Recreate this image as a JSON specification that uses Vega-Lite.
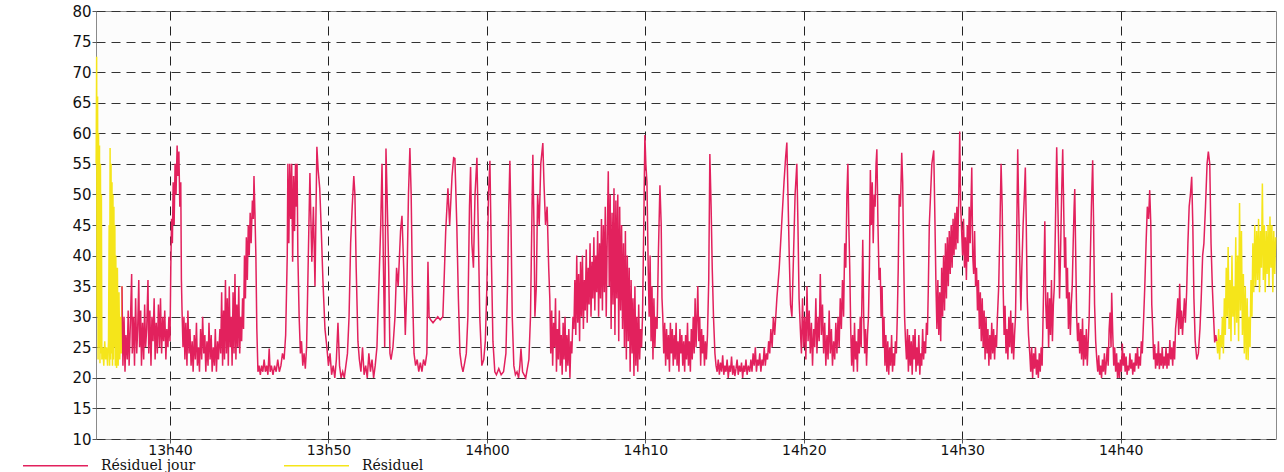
{
"$schema":"https://vega.github.io/schema/vega-lite/v6.json",
"width":1180,"height":428,
"autosize":{"type":"none"},
"padding":{"left":96,"top":11,"right":8,"bottom":33},
"background":"white",
"config":{"view":{"stroke":"#8a8a8a","fill":"#fcfcfc"}},
"datasets":{
"res1":[
{"t":815.34,"v":55},{"t":815.37,"v":72.5},{"t":815.4,"v":30},{"t":815.43,"v":66},{"t":815.46,"v":23},{"t":815.49,"v":60},{"t":815.52,"v":25},{"t":815.55,"v":58},{"t":815.58,"v":22.4},{"t":815.61,"v":55},{"t":815.64,"v":24},{"t":815.67,"v":50},{"t":815.7,"v":23},{"t":815.76,"v":25},{"t":815.82,"v":22},{"t":815.88,"v":26},{"t":815.94,"v":23},{"t":816.0,"v":25},{"t":816.06,"v":22},{"t":816.12,"v":26},{"t":816.16,"v":45},{"t":816.19,"v":22},{"t":816.22,"v":57.6},{"t":816.25,"v":23},{"t":816.28,"v":55},{"t":816.31,"v":24},{"t":816.34,"v":52},{"t":816.37,"v":22},{"t":816.4,"v":50},{"t":816.43,"v":23},{"t":816.46,"v":48},{"t":816.49,"v":25},{"t":816.52,"v":45},{"t":816.55,"v":22},{"t":816.58,"v":40},{"t":816.63,"v":21.6},{"t":816.68,"v":38},{"t":816.73,"v":22},{"t":816.78,"v":34},{"t":816.83,"v":23},{"t":816.88,"v":30},{"t":816.93,"v":24},{"t":816.97,"v":35}
],
"res2":[
{"t":886.06,"v":26},{"t":886.12,"v":24},{"t":886.18,"v":28},{"t":886.24,"v":23},{"t":886.3,"v":27},{"t":886.36,"v":25},{"t":886.42,"v":30},{"t":886.48,"v":24},{"t":886.54,"v":33},{"t":886.6,"v":27},{"t":886.66,"v":38},{"t":886.72,"v":30},{"t":886.78,"v":41.4},{"t":886.84,"v":28},{"t":886.9,"v":36},{"t":886.96,"v":26},{"t":887.02,"v":40},{"t":887.08,"v":30},{"t":887.14,"v":35},{"t":887.2,"v":27},{"t":887.26,"v":43},{"t":887.32,"v":29},{"t":887.38,"v":40},{"t":887.44,"v":26},{"t":887.5,"v":48.6},{"t":887.56,"v":31},{"t":887.62,"v":44},{"t":887.68,"v":27},{"t":887.74,"v":37},{"t":887.8,"v":24},{"t":887.86,"v":35},{"t":887.92,"v":23},{"t":887.98,"v":33},{"t":888.04,"v":22.9},{"t":888.1,"v":30},{"t":888.16,"v":25},{"t":888.22,"v":36},{"t":888.28,"v":30},{"t":888.34,"v":42},{"t":888.4,"v":34},{"t":888.46,"v":45},{"t":888.52,"v":35},{"t":888.58,"v":44},{"t":888.64,"v":36},{"t":888.7,"v":46},{"t":888.76,"v":34},{"t":888.82,"v":44},{"t":888.88,"v":38},{"t":888.94,"v":51.8},{"t":889.0,"v":36},{"t":889.06,"v":45},{"t":889.12,"v":34},{"t":889.18,"v":44},{"t":889.24,"v":37},{"t":889.3,"v":45},{"t":889.36,"v":35},{"t":889.42,"v":46.4},{"t":889.48,"v":38},{"t":889.54,"v":45},{"t":889.6,"v":34},{"t":889.66,"v":44},{"t":889.72,"v":37},{"t":889.78,"v":43}
],
"jour":[
{"t":816.97,"v":35},{"t":817.03,"v":22},{"t":817.1,"v":30},{"t":817.16,"v":21},{"t":817.22,"v":27},{"t":817.3,"v":23},{"t":817.36,"v":31},{"t":817.42,"v":22},{"t":817.5,"v":29},{"t":817.58,"v":37},{"t":817.62,"v":24},{"t":817.7,"v":30},{"t":817.76,"v":22},{"t":817.83,"v":33},{"t":817.9,"v":24},{"t":817.96,"v":28},{"t":818.03,"v":36},{"t":818.08,"v":25},{"t":818.15,"v":31},{"t":818.2,"v":22},{"t":818.27,"v":29},{"t":818.34,"v":23},{"t":818.4,"v":32},{"t":818.46,"v":25},{"t":818.53,"v":28},{"t":818.61,"v":36},{"t":818.66,"v":24},{"t":818.73,"v":31},{"t":818.8,"v":22},{"t":818.86,"v":30},{"t":818.93,"v":26},{"t":819.0,"v":33},{"t":819.06,"v":23},{"t":819.13,"v":29},{"t":819.2,"v":24},{"t":819.27,"v":32},{"t":819.34,"v":25},{"t":819.4,"v":33},{"t":819.47,"v":24},{"t":819.54,"v":30},{"t":819.6,"v":26},{"t":819.67,"v":31},{"t":819.74,"v":23},{"t":819.8,"v":28},{"t":819.87,"v":25},{"t":819.93,"v":30},{"t":820.0,"v":26},
{"t":820.05,"v":38},{"t":820.1,"v":46},{"t":820.15,"v":42},{"t":820.2,"v":52},{"t":820.26,"v":45},{"t":820.32,"v":55},{"t":820.38,"v":50},{"t":820.45,"v":58},{"t":820.5,"v":53},{"t":820.56,"v":57},{"t":820.62,"v":48},{"t":820.68,"v":52},{"t":820.72,"v":36},{"t":820.76,"v":31},
{"t":820.82,"v":25},{"t":820.88,"v":30},{"t":820.94,"v":23},{"t":821.0,"v":29},{"t":821.07,"v":22},{"t":821.13,"v":31},{"t":821.2,"v":24},{"t":821.26,"v":28},{"t":821.33,"v":22},{"t":821.4,"v":26},{"t":821.46,"v":21},{"t":821.53,"v":27},{"t":821.6,"v":23},{"t":821.67,"v":29},{"t":821.73,"v":22},{"t":821.8,"v":25},{"t":821.86,"v":21},{"t":821.93,"v":28},{"t":822.0,"v":23},{"t":822.06,"v":30},{"t":822.13,"v":24},{"t":822.2,"v":27},{"t":822.26,"v":21},{"t":822.33,"v":26},{"t":822.4,"v":22},{"t":822.46,"v":29},{"t":822.53,"v":23},{"t":822.6,"v":27},{"t":822.66,"v":21},{"t":822.73,"v":25},{"t":822.8,"v":22},{"t":822.86,"v":28},{"t":822.93,"v":21},{"t":823.0,"v":26},{"t":823.06,"v":23},{"t":823.15,"v":28},
{"t":823.2,"v":24},{"t":823.26,"v":34},{"t":823.32,"v":22},{"t":823.38,"v":31},{"t":823.44,"v":23},{"t":823.5,"v":36},{"t":823.56,"v":24},{"t":823.62,"v":33},{"t":823.68,"v":22},{"t":823.74,"v":35},{"t":823.8,"v":25},{"t":823.86,"v":30},{"t":823.92,"v":22},{"t":823.98,"v":34},{"t":824.04,"v":24},{"t":824.1,"v":37},{"t":824.16,"v":23},{"t":824.22,"v":32},{"t":824.28,"v":25},{"t":824.34,"v":35},{"t":824.4,"v":24},{"t":824.46,"v":30},{"t":824.52,"v":26},{"t":824.58,"v":33},
{"t":824.64,"v":28},{"t":824.7,"v":40},{"t":824.76,"v":33},{"t":824.82,"v":43},{"t":824.88,"v":36},{"t":824.94,"v":45},{"t":825.0,"v":40},{"t":825.06,"v":47},{"t":825.12,"v":42},{"t":825.2,"v":49},{"t":825.26,"v":46},{"t":825.3,"v":53},{"t":825.36,"v":47},{"t":825.42,"v":40},{"t":825.48,"v":28},{"t":825.55,"v":21},
{"t":825.62,"v":22},{"t":825.7,"v":20.5},{"t":825.78,"v":22},{"t":825.86,"v":21},{"t":825.94,"v":23},{"t":826.02,"v":21},{"t":826.1,"v":22},{"t":826.18,"v":20.5},{"t":826.26,"v":24.8},{"t":826.32,"v":21},{"t":826.4,"v":22},{"t":826.5,"v":20.5},{"t":826.6,"v":22},{"t":826.7,"v":21},{"t":826.8,"v":23},{"t":826.9,"v":21},{"t":827.0,"v":22},{"t":827.1,"v":24},{"t":827.2,"v":23},{"t":827.3,"v":27},
{"t":827.4,"v":40},{"t":827.44,"v":55},{"t":827.5,"v":42},{"t":827.56,"v":55},{"t":827.62,"v":46},{"t":827.68,"v":55},{"t":827.74,"v":39},{"t":827.8,"v":53},{"t":827.86,"v":44},{"t":827.92,"v":55},{"t":827.97,"v":48},{"t":828.02,"v":55},{"t":828.07,"v":40},
{"t":828.15,"v":30},{"t":828.23,"v":24},{"t":828.3,"v":26},{"t":828.38,"v":22},{"t":828.46,"v":24},{"t":828.54,"v":21.5},{"t":828.62,"v":25},
{"t":828.83,"v":53.5},{"t":828.95,"v":39},{"t":829.05,"v":48},{"t":829.15,"v":35},{"t":829.27,"v":57.8},{"t":829.35,"v":54},{"t":829.45,"v":51},{"t":829.55,"v":44},{"t":829.65,"v":36},{"t":829.78,"v":28},{"t":829.9,"v":25},{"t":830.0,"v":22},{"t":830.1,"v":24},{"t":830.2,"v":20.5},{"t":830.3,"v":22},{"t":830.4,"v":20},{"t":830.5,"v":23},{"t":830.6,"v":29},{"t":830.7,"v":22},{"t":830.8,"v":20},{"t":830.9,"v":21},{"t":831.0,"v":20},{"t":831.1,"v":22},{"t":831.2,"v":24},{"t":831.3,"v":30},{"t":831.4,"v":42},{"t":831.5,"v":48},{"t":831.6,"v":53},{"t":831.67,"v":50},{"t":831.75,"v":38},{"t":831.86,"v":26},{"t":831.95,"v":23},{"t":832.05,"v":21},{"t":832.15,"v":25},{"t":832.25,"v":20.5},{"t":832.35,"v":22},{"t":832.45,"v":20},{"t":832.55,"v":24},{"t":832.65,"v":21},{"t":832.75,"v":23},{"t":832.85,"v":20},{"t":832.95,"v":22},{"t":833.06,"v":25},
{"t":833.3,"v":45},{"t":833.38,"v":55},{"t":833.46,"v":40},{"t":833.55,"v":25},{"t":833.63,"v":57.5},{"t":833.7,"v":50},{"t":833.8,"v":38},{"t":833.88,"v":24},{"t":833.95,"v":23},{"t":834.07,"v":25},{"t":834.2,"v":30},{"t":834.3,"v":38},{"t":834.4,"v":35},{"t":834.55,"v":44},{"t":834.64,"v":46.5},{"t":834.75,"v":38},{"t":834.85,"v":27},{"t":834.95,"v":35},{"t":835.05,"v":50},{"t":835.14,"v":57.6},{"t":835.22,"v":50},{"t":835.3,"v":35},{"t":835.4,"v":24},{"t":835.5,"v":22},{"t":835.6,"v":23},{"t":835.7,"v":21},{"t":835.8,"v":22.5},{"t":835.9,"v":21},{"t":836.0,"v":23},{"t":836.1,"v":22},{"t":836.21,"v":24},{"t":836.28,"v":39},{"t":836.35,"v":30},{"t":836.45,"v":29.5},{"t":836.6,"v":29},{"t":836.75,"v":29.5},{"t":836.9,"v":30},{"t":837.05,"v":29.5},{"t":837.22,"v":30},
{"t":837.3,"v":36},{"t":837.4,"v":44},{"t":837.54,"v":51},{"t":837.65,"v":45},{"t":837.8,"v":53},{"t":837.9,"v":56},{"t":837.98,"v":55.9},{"t":838.1,"v":45},{"t":838.2,"v":33},{"t":838.3,"v":24},{"t":838.4,"v":22},{"t":838.49,"v":21},{"t":838.6,"v":22.5},{"t":838.7,"v":24},{"t":838.8,"v":30},{"t":838.9,"v":48},{"t":838.97,"v":54.5},{"t":839.05,"v":42},{"t":839.15,"v":38},{"t":839.25,"v":50},{"t":839.37,"v":56},{"t":839.45,"v":45},{"t":839.55,"v":30},{"t":839.68,"v":22},{"t":839.8,"v":23},{"t":839.9,"v":26},{"t":840.0,"v":35},{"t":840.1,"v":50},{"t":840.19,"v":55.5},{"t":840.28,"v":40},{"t":840.38,"v":26},{"t":840.5,"v":21},{"t":840.6,"v":20.5},{"t":840.75,"v":21.5},{"t":840.9,"v":20.5},{"t":841.05,"v":21},{"t":841.2,"v":24},{"t":841.3,"v":35},{"t":841.38,"v":48},{"t":841.45,"v":55.5},{"t":841.52,"v":45},{"t":841.6,"v":30},{"t":841.7,"v":22},{"t":841.8,"v":20.5},{"t":841.9,"v":21},{"t":842.0,"v":20},{"t":842.08,"v":22},{"t":842.15,"v":24.8},{"t":842.25,"v":21},{"t":842.35,"v":20.5},{"t":842.45,"v":20},{"t":842.55,"v":21.5},{"t":842.65,"v":23},{"t":842.75,"v":30},{"t":842.85,"v":48},{"t":842.9,"v":56.5},{"t":842.97,"v":45},{"t":843.03,"v":30},{"t":843.12,"v":35},{"t":843.2,"v":50},{"t":843.3,"v":45},{"t":843.4,"v":55},{"t":843.53,"v":58.4},{"t":843.6,"v":52},{"t":843.7,"v":45},{"t":843.8,"v":48},{"t":843.9,"v":38},{"t":843.97,"v":33},
{"t":844.03,"v":24},{"t":844.09,"v":31},{"t":844.15,"v":22},{"t":844.21,"v":29},{"t":844.27,"v":25},{"t":844.33,"v":33},{"t":844.39,"v":21},{"t":844.45,"v":28},{"t":844.51,"v":23},{"t":844.57,"v":31},{"t":844.63,"v":22},{"t":844.69,"v":27},{"t":844.75,"v":20.5},{"t":844.81,"v":29},{"t":844.87,"v":23},{"t":844.93,"v":30},{"t":844.99,"v":21},{"t":845.05,"v":27},{"t":845.11,"v":22},{"t":845.17,"v":28},{"t":845.24,"v":20},{"t":845.3,"v":26},{"t":845.36,"v":24},{"t":845.43,"v":30},
{"t":845.49,"v":28},{"t":845.55,"v":36},{"t":845.61,"v":27},{"t":845.67,"v":40},{"t":845.73,"v":29},{"t":845.79,"v":37},{"t":845.85,"v":26},{"t":845.91,"v":39},{"t":845.97,"v":30},{"t":846.03,"v":40},{"t":846.09,"v":28},{"t":846.15,"v":36},{"t":846.21,"v":31},{"t":846.27,"v":41},{"t":846.33,"v":29},{"t":846.39,"v":38},{"t":846.45,"v":32},{"t":846.51,"v":42},{"t":846.57,"v":30},{"t":846.63,"v":39},{"t":846.69,"v":33},{"t":846.75,"v":43},{"t":846.81,"v":31},{"t":846.87,"v":40},{"t":846.93,"v":34},{"t":846.99,"v":44},{"t":847.05,"v":30},{"t":847.11,"v":42},{"t":847.17,"v":33},{"t":847.23,"v":46},{"t":847.29,"v":31},{"t":847.35,"v":45},{"t":847.41,"v":34},{"t":847.47,"v":48},{"t":847.53,"v":30},
{"t":847.6,"v":44},{"t":847.66,"v":53.8},{"t":847.72,"v":35},{"t":847.78,"v":50},{"t":847.84,"v":28},{"t":847.9,"v":47},{"t":847.96,"v":32},{"t":848.02,"v":51},{"t":848.08,"v":27},{"t":848.14,"v":49},{"t":848.2,"v":33},{"t":848.26,"v":50},{"t":848.32,"v":26},{"t":848.38,"v":48},{"t":848.44,"v":31},{"t":848.5,"v":45},{"t":848.56,"v":28},
{"t":848.62,"v":42},{"t":848.68,"v":25},{"t":848.74,"v":44},{"t":848.8,"v":23},{"t":848.86,"v":40},{"t":848.92,"v":26},{"t":848.98,"v":38},{"t":849.04,"v":21},{"t":849.1,"v":36},{"t":849.16,"v":24},{"t":849.22,"v":33},{"t":849.28,"v":20.3},{"t":849.34,"v":35},{"t":849.4,"v":22},{"t":849.46,"v":30},{"t":849.52,"v":21},{"t":849.58,"v":32},{"t":849.64,"v":23},{"t":849.7,"v":28},{"t":849.76,"v":25},{"t":849.82,"v":30},
{"t":849.9,"v":45},{"t":849.97,"v":59.7},{"t":850.03,"v":55},{"t":850.1,"v":52},{"t":850.18,"v":38},{"t":850.24,"v":30},{"t":850.3,"v":40},{"t":850.36,"v":26},{"t":850.42,"v":35},{"t":850.48,"v":23},{"t":850.54,"v":33},{"t":850.6,"v":25},{"t":850.66,"v":30},{"t":850.74,"v":28},{"t":850.82,"v":40},{"t":850.92,"v":51.5},{"t":851.0,"v":45},{"t":851.05,"v":33},{"t":851.1,"v":30},
{"t":851.16,"v":24},{"t":851.22,"v":29},{"t":851.28,"v":22},{"t":851.34,"v":28},{"t":851.4,"v":23},{"t":851.46,"v":27},{"t":851.52,"v":21},{"t":851.58,"v":29},{"t":851.64,"v":24},{"t":851.7,"v":28},{"t":851.76,"v":22},{"t":851.82,"v":27},{"t":851.88,"v":23},{"t":851.94,"v":29},{"t":852.0,"v":22},{"t":852.06,"v":26},{"t":852.12,"v":21},{"t":852.18,"v":28},{"t":852.24,"v":24},{"t":852.3,"v":27},{"t":852.36,"v":22},{"t":852.42,"v":26},{"t":852.48,"v":21},{"t":852.54,"v":27},{"t":852.6,"v":23},{"t":852.66,"v":29},{"t":852.72,"v":22},{"t":852.78,"v":26},{"t":852.84,"v":21},{"t":852.9,"v":28},{"t":852.96,"v":23},{"t":853.02,"v":30},{"t":853.08,"v":24},{"t":853.14,"v":33},{"t":853.2,"v":25},{"t":853.26,"v":30},{"t":853.31,"v":35},{"t":853.37,"v":26},{"t":853.43,"v":30},{"t":853.49,"v":22},{"t":853.55,"v":28},{"t":853.61,"v":24},{"t":853.67,"v":27},{"t":853.73,"v":22},{"t":853.79,"v":26},{"t":853.85,"v":23},{"t":853.92,"v":27},{"t":854.0,"v":36},{"t":854.07,"v":56.6},{"t":854.15,"v":48},{"t":854.22,"v":38},{"t":854.3,"v":30},{"t":854.39,"v":24},
{"t":854.46,"v":22},{"t":854.53,"v":21},{"t":854.6,"v":23},{"t":854.67,"v":20.5},{"t":854.74,"v":22.5},{"t":854.81,"v":21},{"t":854.88,"v":23.7},{"t":854.95,"v":20.5},{"t":855.02,"v":22},{"t":855.09,"v":21},{"t":855.16,"v":23},{"t":855.23,"v":20},{"t":855.3,"v":22},{"t":855.37,"v":21},{"t":855.44,"v":23.5},{"t":855.51,"v":20.5},{"t":855.58,"v":22},{"t":855.65,"v":20.3},{"t":855.72,"v":21.5},{"t":855.79,"v":23},{"t":855.86,"v":20.5},{"t":855.93,"v":22},{"t":856.0,"v":21},{"t":856.07,"v":22.5},{"t":856.14,"v":20},{"t":856.21,"v":22},{"t":856.28,"v":21},{"t":856.35,"v":23},{"t":856.42,"v":20.5},{"t":856.5,"v":22},{"t":856.59,"v":21},
{"t":856.66,"v":23},{"t":856.73,"v":21},{"t":856.8,"v":24},{"t":856.87,"v":22},{"t":856.94,"v":25},{"t":857.01,"v":21},{"t":857.08,"v":23},{"t":857.15,"v":22},{"t":857.22,"v":24},{"t":857.29,"v":21},{"t":857.36,"v":23},{"t":857.43,"v":22},{"t":857.5,"v":25},{"t":857.57,"v":22},{"t":857.64,"v":24},{"t":857.71,"v":23},{"t":857.78,"v":26},{"t":857.85,"v":24},{"t":857.92,"v":28},{"t":858.0,"v":25},{"t":858.08,"v":30},{"t":858.16,"v":27},{"t":858.3,"v":33},{"t":858.45,"v":38},{"t":858.6,"v":45},{"t":858.75,"v":52},{"t":858.85,"v":56},{"t":858.93,"v":58.5},{"t":859.0,"v":50},{"t":859.08,"v":40},{"t":859.16,"v":32},{"t":859.25,"v":30},{"t":859.35,"v":40},{"t":859.45,"v":50},{"t":859.56,"v":55},{"t":859.63,"v":45},{"t":859.7,"v":33},{"t":859.78,"v":28},
{"t":859.85,"v":24},{"t":859.92,"v":33},{"t":859.99,"v":25},{"t":860.06,"v":30},{"t":860.13,"v":23},{"t":860.2,"v":35},{"t":860.27,"v":26},{"t":860.34,"v":31},{"t":860.41,"v":24},{"t":860.48,"v":29},{"t":860.55,"v":22},{"t":860.62,"v":28},{"t":860.69,"v":25},{"t":860.76,"v":33},{"t":860.83,"v":24},{"t":860.9,"v":30},{"t":860.97,"v":26},{"t":861.04,"v":37},{"t":861.11,"v":27},{"t":861.18,"v":32},{"t":861.25,"v":24},{"t":861.32,"v":29},{"t":861.39,"v":22},{"t":861.46,"v":27},{"t":861.53,"v":23},{"t":861.6,"v":31},{"t":861.67,"v":24},{"t":861.74,"v":28},{"t":861.81,"v":22},{"t":861.88,"v":26},{"t":861.95,"v":23},{"t":862.02,"v":29},{"t":862.09,"v":24},{"t":862.16,"v":30},{"t":862.23,"v":25},{"t":862.3,"v":33},{"t":862.37,"v":28},{"t":862.44,"v":36},{"t":862.51,"v":30},{"t":862.58,"v":42},{"t":862.65,"v":38},{"t":862.72,"v":50},{"t":862.78,"v":55},{"t":862.84,"v":45},{"t":862.9,"v":38},
{"t":862.96,"v":28},{"t":863.02,"v":22},{"t":863.08,"v":27},{"t":863.14,"v":21},{"t":863.2,"v":29},{"t":863.26,"v":23},{"t":863.32,"v":26},{"t":863.38,"v":21},{"t":863.44,"v":28},{"t":863.5,"v":24},{"t":863.56,"v":30},{"t":863.62,"v":25},{"t":863.68,"v":35},{"t":863.72,"v":42.6},{"t":863.78,"v":30},{"t":863.84,"v":24},{"t":863.9,"v":28},{"t":863.96,"v":22},{"t":864.02,"v":27},{"t":864.08,"v":30},{"t":864.14,"v":38},{"t":864.2,"v":54},{"t":864.26,"v":45},{"t":864.32,"v":52},{"t":864.38,"v":42},{"t":864.44,"v":50},{"t":864.5,"v":48},{"t":864.56,"v":55},{"t":864.61,"v":57.4},{"t":864.68,"v":45},
{"t":864.75,"v":36},{"t":864.82,"v":38},{"t":864.88,"v":30},{"t":864.94,"v":35},{"t":865.0,"v":25},{"t":865.06,"v":30},{"t":865.12,"v":22},{"t":865.18,"v":27},{"t":865.24,"v":21},{"t":865.3,"v":26},{"t":865.36,"v":20.5},{"t":865.42,"v":25},{"t":865.48,"v":22},{"t":865.54,"v":27},{"t":865.6,"v":21},{"t":865.66,"v":24},{"t":865.72,"v":22},{"t":865.78,"v":26},{"t":865.84,"v":24},{"t":865.9,"v":30},{"t":865.96,"v":38},{"t":866.02,"v":50},{"t":866.1,"v":48},{"t":866.18,"v":56.8},{"t":866.24,"v":52},{"t":866.3,"v":40},{"t":866.36,"v":30},{"t":866.42,"v":26},
{"t":866.48,"v":23},{"t":866.54,"v":28},{"t":866.6,"v":21},{"t":866.66,"v":27},{"t":866.72,"v":22},{"t":866.78,"v":26},{"t":866.84,"v":20.5},{"t":866.9,"v":27},{"t":866.96,"v":23},{"t":867.02,"v":28},{"t":867.08,"v":21},{"t":867.14,"v":25},{"t":867.2,"v":22},{"t":867.26,"v":27},{"t":867.32,"v":20.5},{"t":867.38,"v":24},{"t":867.44,"v":22},{"t":867.5,"v":28},{"t":867.56,"v":23},{"t":867.62,"v":26},{"t":867.68,"v":24},{"t":867.74,"v":29},{"t":867.8,"v":27},{"t":867.86,"v":35},{"t":867.92,"v":45},{"t":868.0,"v":50},{"t":868.08,"v":55},{"t":868.2,"v":57.2},{"t":868.28,"v":45},{"t":868.34,"v":35},
{"t":868.4,"v":28},{"t":868.46,"v":36},{"t":868.52,"v":27},{"t":868.58,"v":34},{"t":868.64,"v":26},{"t":868.7,"v":38},{"t":868.76,"v":30},{"t":868.82,"v":40},{"t":868.88,"v":31},{"t":868.94,"v":42},{"t":869.0,"v":33},{"t":869.06,"v":43},{"t":869.12,"v":35},{"t":869.18,"v":44},{"t":869.24,"v":37},{"t":869.3,"v":45},{"t":869.36,"v":38},{"t":869.42,"v":46},{"t":869.48,"v":40},{"t":869.54,"v":47},{"t":869.6,"v":41},{"t":869.66,"v":48},{"t":869.72,"v":42},{"t":869.78,"v":50},{"t":869.84,"v":60.3},{"t":869.9,"v":48},
{"t":869.96,"v":44},{"t":870.02,"v":40},{"t":870.08,"v":46},{"t":870.14,"v":38},{"t":870.2,"v":43},{"t":870.26,"v":36},{"t":870.32,"v":45},{"t":870.38,"v":39},{"t":870.44,"v":48},{"t":870.5,"v":42},{"t":870.6,"v":54.4},{"t":870.66,"v":40},{"t":870.72,"v":37},{"t":870.78,"v":44},{"t":870.84,"v":35},{"t":870.9,"v":38},
{"t":870.96,"v":31},{"t":871.02,"v":36},{"t":871.08,"v":28},{"t":871.14,"v":34},{"t":871.2,"v":26},{"t":871.26,"v":33},{"t":871.32,"v":25},{"t":871.38,"v":31},{"t":871.44,"v":23},{"t":871.5,"v":30},{"t":871.56,"v":24},{"t":871.62,"v":28},{"t":871.68,"v":22},{"t":871.74,"v":27},{"t":871.8,"v":23},{"t":871.86,"v":29},{"t":871.92,"v":24},
{"t":871.98,"v":28},{"t":872.04,"v":23},{"t":872.1,"v":27},{"t":872.16,"v":25},{"t":872.22,"v":30},{"t":872.3,"v":35},{"t":872.38,"v":45},{"t":872.45,"v":55},{"t":872.52,"v":48},{"t":872.58,"v":35},{"t":872.64,"v":27},{"t":872.7,"v":31.8},{"t":872.76,"v":24},{"t":872.82,"v":28},{"t":872.88,"v":23},{"t":872.94,"v":30},{"t":873.0,"v":25},{"t":873.06,"v":31},{"t":873.12,"v":24},{"t":873.18,"v":29},{"t":873.24,"v":23},{"t":873.3,"v":27},{"t":873.36,"v":30},
{"t":873.42,"v":40},{"t":873.5,"v":57.4},{"t":873.56,"v":48},{"t":873.62,"v":40},{"t":873.7,"v":31},{"t":873.76,"v":38},{"t":873.84,"v":45},{"t":873.92,"v":50},{"t":873.98,"v":54.4},{"t":874.04,"v":45},{"t":874.1,"v":33},{"t":874.18,"v":27},{"t":874.26,"v":24},
{"t":874.32,"v":21},{"t":874.38,"v":25},{"t":874.44,"v":20},{"t":874.5,"v":24},{"t":874.56,"v":21.5},{"t":874.62,"v":25},{"t":874.68,"v":20.5},{"t":874.74,"v":23},{"t":874.8,"v":20},{"t":874.86,"v":24},{"t":874.92,"v":21},{"t":874.98,"v":25},{"t":875.04,"v":22},
{"t":875.1,"v":30},{"t":875.16,"v":38},{"t":875.21,"v":45.6},{"t":875.27,"v":32},{"t":875.33,"v":28},{"t":875.39,"v":34},{"t":875.45,"v":25},{"t":875.51,"v":33},{"t":875.57,"v":27},{"t":875.63,"v":36},{"t":875.69,"v":26},{"t":875.75,"v":32},{"t":875.81,"v":35},{"t":875.88,"v":45},{"t":875.96,"v":57.7},{"t":876.02,"v":50},{"t":876.08,"v":42},{"t":876.14,"v":33},{"t":876.2,"v":40},{"t":876.27,"v":50},{"t":876.34,"v":57.4},{"t":876.4,"v":48},{"t":876.46,"v":38},{"t":876.52,"v":43},{"t":876.58,"v":33},{"t":876.64,"v":38},{"t":876.7,"v":28},{"t":876.76,"v":34},{"t":876.82,"v":27},{"t":876.88,"v":32},{"t":876.94,"v":35},{"t":877.0,"v":42},{"t":877.06,"v":48},{"t":877.1,"v":50.9},{"t":877.16,"v":40},{"t":877.22,"v":30},{"t":877.28,"v":26},{"t":877.34,"v":29},{"t":877.41,"v":24},
{"t":877.47,"v":28},{"t":877.53,"v":23},{"t":877.59,"v":29.7},{"t":877.65,"v":22},{"t":877.71,"v":27},{"t":877.77,"v":23},{"t":877.83,"v":28},{"t":877.89,"v":22},{"t":877.95,"v":26},{"t":878.01,"v":30},{"t":878.07,"v":38},{"t":878.15,"v":48},{"t":878.23,"v":55.6},{"t":878.29,"v":45},{"t":878.35,"v":32},{"t":878.42,"v":26},{"t":878.49,"v":23},
{"t":878.55,"v":21},{"t":878.61,"v":23.7},{"t":878.67,"v":20.5},{"t":878.73,"v":22},{"t":878.79,"v":20},{"t":878.85,"v":23},{"t":878.91,"v":21},{"t":878.97,"v":24},{"t":879.03,"v":20.5},{"t":879.09,"v":22.5},{"t":879.15,"v":25},{"t":879.21,"v":22},{"t":879.27,"v":28},{"t":879.33,"v":30.7},{"t":879.39,"v":25},{"t":879.43,"v":33.9},{"t":879.5,"v":27},{"t":879.56,"v":22},{"t":879.62,"v":25},{"t":879.68,"v":21},{"t":879.74,"v":24},{"t":879.8,"v":20},{"t":879.86,"v":22.5},{"t":879.92,"v":20},{"t":879.98,"v":23},{"t":880.04,"v":21},{"t":880.1,"v":25.6},{"t":880.16,"v":22},{"t":880.22,"v":24},{"t":880.28,"v":21},{"t":880.34,"v":23.5},{"t":880.4,"v":20.5},{"t":880.46,"v":22},{"t":880.52,"v":21.2},{"t":880.58,"v":24},{"t":880.64,"v":21.5},{"t":880.7,"v":23},{"t":880.76,"v":20.5},{"t":880.82,"v":22.5},{"t":880.88,"v":21},{"t":880.94,"v":24},{"t":881.0,"v":22},{"t":881.06,"v":25},{"t":881.12,"v":21.5},{"t":881.18,"v":23.5},{"t":881.24,"v":22},{"t":881.3,"v":26},{"t":881.36,"v":24},
{"t":881.45,"v":30},{"t":881.52,"v":35},{"t":881.6,"v":42},{"t":881.68,"v":48},{"t":881.76,"v":46},{"t":881.83,"v":50.7},{"t":881.9,"v":45},{"t":881.96,"v":32},{"t":882.02,"v":28},
{"t":882.08,"v":23},{"t":882.14,"v":25.5},{"t":882.2,"v":21.5},{"t":882.26,"v":24},{"t":882.32,"v":22},{"t":882.38,"v":26},{"t":882.44,"v":21.4},{"t":882.5,"v":24},{"t":882.56,"v":22},{"t":882.62,"v":25},{"t":882.68,"v":21.5},{"t":882.74,"v":23.5},{"t":882.8,"v":22},{"t":882.86,"v":25},{"t":882.92,"v":21.5},{"t":882.98,"v":24},{"t":883.04,"v":22},{"t":883.1,"v":26.2},{"t":883.16,"v":23},{"t":883.22,"v":25},{"t":883.28,"v":22},{"t":883.34,"v":26},{"t":883.4,"v":23},{"t":883.46,"v":28},{"t":883.53,"v":30},
{"t":883.6,"v":33},{"t":883.66,"v":27},{"t":883.72,"v":35.4},{"t":883.78,"v":28},{"t":883.84,"v":31},{"t":883.9,"v":27},{"t":883.96,"v":30},{"t":884.02,"v":33},{"t":884.08,"v":29},{"t":884.16,"v":34},{"t":884.24,"v":42},{"t":884.32,"v":48},{"t":884.4,"v":50},{"t":884.48,"v":52.9},{"t":884.55,"v":45},{"t":884.62,"v":33},{"t":884.7,"v":26},{"t":884.8,"v":23},{"t":884.9,"v":24},{"t":885.0,"v":28},{"t":885.08,"v":33},{"t":885.17,"v":40},{"t":885.25,"v":42},{"t":885.35,"v":48},{"t":885.45,"v":55},{"t":885.53,"v":57},{"t":885.62,"v":55},{"t":885.7,"v":42},{"t":885.78,"v":35},{"t":885.86,"v":30},{"t":885.93,"v":25.8},{"t":886.0,"v":27},{"t":886.06,"v":26}
]},
"encoding":{
"x":{"field":"t","type":"quantitative","scale":{"domain":[815.33,889.8],"nice":false,"zero":false},
"axis":{"title":null,"values":[820,830,840,850,860,870,880],"labelExpr":"floor(datum.value/60)+'h'+(datum.value%60<10?'0':'')+(datum.value%60)","grid":true,"gridDash":[9,6],"gridColor":"#222","gridWidth":1,"domain":false,"tickSize":4,"tickColor":"#555","labelFont":"DejaVu Sans","labelFontSize":14,"labelColor":"#111","labelPadding":0}},
"y":{"field":"v","type":"quantitative","scale":{"domain":[10,80],"nice":false,"zero":false},
"axis":{"title":null,"values":[10,15,20,25,30,35,40,45,50,55,60,65,70,75,80],"grid":true,"gridDash":[9,6],"gridColor":"#333","gridWidth":1,"domain":false,"tickSize":4,"tickColor":"#555","labelFont":"DejaVu Sans","labelFontSize":15,"labelColor":"#111","labelPadding":1}}
},
"layer":[
{"data":{"name":"res1"},"mark":{"type":"line","strokeWidth":1.5},
"encoding":{"color":{"datum":"Résiduel","type":"nominal","scale":{"domain":["Résiduel jour","Résiduel"],"range":["#e2215d","#f5e51a"]},
"legend":{"orient":"none","legendX":-74,"legendY":421,"direction":"horizontal","title":null,"symbolType":"stroke","symbolSize":4225,"symbolStrokeWidth":1.5,"labelFont":"DejaVu Serif","labelFontSize":14,"labelColor":"#111","labelOffset":12,"columnPadding":85}}}},
{"data":{"name":"res2"},"mark":{"type":"line","strokeWidth":1.5},
"encoding":{"color":{"datum":"Résiduel","type":"nominal"}}},
{"data":{"name":"jour"},"mark":{"type":"line","strokeWidth":1.5},
"encoding":{"color":{"datum":"Résiduel jour","type":"nominal"}}}
]
}
